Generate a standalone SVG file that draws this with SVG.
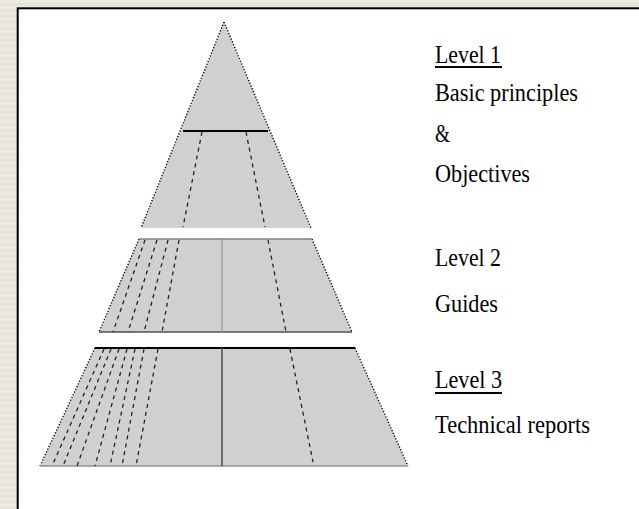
<svg xmlns="http://www.w3.org/2000/svg" width="639" height="509" viewBox="0 0 639 509">
  <defs>
    <pattern id="paper" width="8" height="6" patternUnits="userSpaceOnUse">
      <rect width="8" height="6" fill="#EDEAE4"/>
      <rect y="3" width="8" height="3" fill="#E6E3DC"/>
    </pattern>
  </defs>
  <style>
    .fill { fill: #D0D0D0; stroke: none; }
    .edge { stroke: #000; stroke-width: 1.4; stroke-dasharray: 1.2 1.8; fill: none; }
    .dash { stroke: #222; stroke-width: 1.3; stroke-dasharray: 4 4; fill: none; }
    .lbl { font-family: "Liberation Serif", "Times New Roman", serif; font-size: 25px; fill: #000; }
    .ul { stroke: #000; stroke-width: 2; }
  </style>

  <!-- page background and frame -->
  <rect x="0" y="0" width="639" height="509" fill="url(#paper)"/>
  <rect x="17.7" y="8.3" width="625" height="505" fill="#FFFFFF" stroke="#000" stroke-width="2"/>

  <!-- top tier: level 1 -->
  <g id="tier1">
    <polygon class="fill" points="224,22 311,228 141,228"/>
    <line class="edge" x1="224" y1="22" x2="141" y2="228"/>
    <line class="edge" x1="224" y1="22" x2="311" y2="228"/>
    <line x1="183" y1="131" x2="268" y2="131" stroke="#000" stroke-width="2"/>
    <line class="dash" x1="202" y1="132" x2="183" y2="227"/>
    <line class="dash" x1="246" y1="132" x2="265" y2="227"/>
  </g>

  <!-- middle tier: level 2 -->
  <g id="tier2">
    <polygon class="fill" points="139,239 312,239 352,332 99,332"/>
    <line class="edge" x1="139" y1="239" x2="99" y2="332"/>
    <line class="edge" x1="312" y1="239" x2="352" y2="332"/>
    <line x1="139" y1="239" x2="312" y2="239" stroke="#808080" stroke-width="1.5"/>
    <line x1="99" y1="332" x2="352" y2="332" stroke="#505050" stroke-width="1.5"/>
    <line x1="222" y1="239" x2="222" y2="332" stroke="#A0A0A0" stroke-width="1.3"/>
    <line class="dash" x1="145" y1="240" x2="113" y2="332"/>
    <line class="dash" x1="157" y1="240" x2="128" y2="332"/>
    <line class="dash" x1="168" y1="240" x2="144" y2="332"/>
    <line class="dash" x1="179" y1="240" x2="162" y2="332"/>
    <line class="dash" x1="268" y1="240" x2="286" y2="332"/>
  </g>

  <!-- bottom tier: level 3 -->
  <g id="tier3">
    <polygon class="fill" points="95,348 355,348 408,466 40,466"/>
    <line class="edge" x1="95" y1="348" x2="40" y2="466"/>
    <line class="edge" x1="355" y1="348" x2="408" y2="466"/>
    <line x1="95" y1="348" x2="355" y2="348" stroke="#000" stroke-width="2"/>
    <line x1="40" y1="466" x2="408" y2="466" stroke="#909090" stroke-width="1.5"/>
    <line x1="222" y1="348" x2="222" y2="466" stroke="#555" stroke-width="1.6"/>
    <line class="dash" x1="104" y1="349" x2="52" y2="466"/>
    <line class="dash" x1="111" y1="349" x2="63" y2="466"/>
    <line class="dash" x1="119" y1="349" x2="77" y2="466"/>
    <line class="dash" x1="127" y1="349" x2="95" y2="466"/>
    <line class="dash" x1="135" y1="349" x2="110" y2="466"/>
    <line class="dash" x1="144" y1="349" x2="122" y2="466"/>
    <line class="dash" x1="158" y1="349" x2="136" y2="466"/>
    <line class="dash" x1="290" y1="349" x2="313" y2="462"/>
  </g>

  <!-- captions -->
  <g id="caption1">
    <text class="lbl" x="435" y="63" textLength="66" lengthAdjust="spacingAndGlyphs">Level 1</text>
    <line class="ul" x1="435" y1="67" x2="502" y2="67"/>
    <text class="lbl" x="435" y="101" textLength="143" lengthAdjust="spacingAndGlyphs">Basic principles</text>
    <text class="lbl" x="435" y="142" textLength="15" lengthAdjust="spacingAndGlyphs">&amp;</text>
    <text class="lbl" x="435" y="182" textLength="95" lengthAdjust="spacingAndGlyphs">Objectives</text>
  </g>
  <g id="caption2">
    <text class="lbl" x="435" y="266" textLength="66" lengthAdjust="spacingAndGlyphs">Level 2</text>
    <text class="lbl" x="435" y="312" textLength="63" lengthAdjust="spacingAndGlyphs">Guides</text>
  </g>
  <g id="caption3">
    <text class="lbl" x="435" y="388" textLength="67" lengthAdjust="spacingAndGlyphs">Level 3</text>
    <line class="ul" x1="435" y1="393" x2="502" y2="393"/>
    <text class="lbl" x="435" y="433" textLength="155" lengthAdjust="spacingAndGlyphs">Technical reports</text>
  </g>
</svg>
